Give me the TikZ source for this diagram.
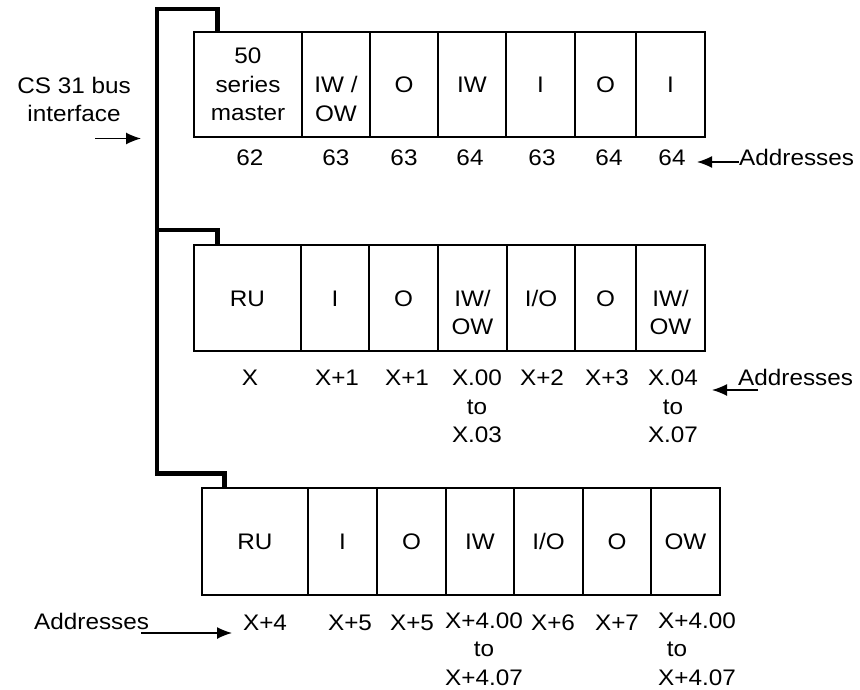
\documentclass[tikz,border=0pt]{standalone}
\usepackage{fontspec}
\setmainfont{Liberation Sans}[FakeStretch=1.08]
\usetikzlibrary{arrows.meta,fit}
\begin{document}
\begin{tikzpicture}[x=1pt,y=-1pt,
  box/.style={draw,line width=1.3pt,inner sep=0pt},
  lbl/.style={anchor=base,align=center,inner sep=0pt,font=\fontsize{22.5}{28.5}\selectfont},
  bus/.style={line width=4.5pt,line join=miter},
  arr/.style={line width=1.4pt,-{Latex[length=15pt,width=12pt]}}]
\useasboundingbox (0,0) rectangle (860,690);
% ---- boxes
\foreach \n/\l/\r in {1/194/302,2/302/370,3/370/438,4/438/506,5/506/575,6/575/636,7/636/705}
  \node[box,fit={(\l,32) (\r,137)}] (a\n) {};
\foreach \n/\l/\r in {1/194/301,2/301/369,3/369/438,4/438/507,5/507/575,6/575/636,7/636/705}
  \node[box,fit={(\l,245) (\r,351)}] (b\n) {};
\foreach \n/\l/\r in {1/202/308,2/308/377,3/377/446,4/446/514,5/514/583,6/583/651,7/651/720}
  \node[box,fit={(\l,488) (\r,595)}] (c\n) {};
% ---- box labels (base anchor = baseline of the last line)
\node[lbl] (ta1) at ([yshift=-36.2pt]a1.center) {50\\series\\master};
\node[lbl] (ta2) at ([yshift=-36.7pt]a2.center) {IW /\\OW};
\node[lbl] (ta3) at ([yshift=-8.2pt]a3.center) {O};
\node[lbl] (ta4) at ([yshift=-8.2pt]a4.center) {IW};
\node[lbl] (ta5) at ([yshift=-8.2pt]a5.center) {I};
\node[lbl] (ta6) at ([yshift=-8.2pt]a6.center) {O};
\node[lbl] (ta7) at ([yshift=-8.2pt]a7.center) {I};
\node[lbl] (tb1) at ([yshift=-8pt]b1.center) {RU};
\node[lbl] (tb2) at ([yshift=-8pt]b2.center) {I};
\node[lbl] (tb3) at ([yshift=-8pt]b3.center) {O};
\node[lbl] (tb4) at ([yshift=-36.5pt]b4.center) {IW/\\OW};
\node[lbl] (tb5) at ([yshift=-8pt]b5.center) {I/O};
\node[lbl] (tb6) at ([yshift=-8pt]b6.center) {O};
\node[lbl] (tb7) at ([yshift=-36.5pt]b7.center) {IW/\\OW};
\node[lbl] (tc1) at ([yshift=-8.2pt]c1.center) {RU};
\node[lbl] (tc2) at ([yshift=-8.2pt]c2.center) {I};
\node[lbl] (tc3) at ([yshift=-8.2pt]c3.center) {O};
\node[lbl] (tc4) at ([yshift=-8.2pt]c4.center) {IW};
\node[lbl] (tc5) at ([yshift=-8.2pt]c5.center) {I/O};
\node[lbl] (tc6) at ([yshift=-8.2pt]c6.center) {O};
\node[lbl] (tc7) at ([yshift=-8.2pt]c7.center) {OW};
% ---- addresses
\node[lbl] (pa1) at (250,165.5) {62};
\node[lbl] (pa2) at (336,165.5) {63};
\node[lbl] (pa3) at (404,165.5) {63};
\node[lbl] (pa4) at (470,165.5) {64};
\node[lbl] (pa5) at (542,165.5) {63};
\node[lbl] (pa6) at (609,165.5) {64};
\node[lbl] (pa7) at (672,165.5) {64};
\node[lbl] (pb1) at (250,385.5) {X};
\node[lbl] (pb2) at (337,385.5) {X+1};
\node[lbl] (pb3) at (407,385.5) {X+1};
\node[lbl] (pb4) at (477,442.5) {X.00\\to\\X.03};
\node[lbl] (pb5) at (542,385.5) {X+2};
\node[lbl] (pb6) at (607,385.5) {X+3};
\node[lbl] (pb7) at (673,442.5) {X.04\\to\\X.07};
\node[lbl] (pc1) at (265,630) {X+4};
\node[lbl] (pc2) at (350,630) {X+5};
\node[lbl] (pc3) at (412,630) {X+5};
\node[lbl] (pc4) at (484,685) {X+4.00\\to\\X+4.07};
\node[lbl] (pc5) at (553,630) {X+6};
\node[lbl] (pc6) at (617,630) {X+7};
\node[lbl] (pc7) at (697,685) {X+4.00\\\makebox[0pt][c]{to\hspace*{40pt}}\\X+4.07};
% ---- side labels
\node[lbl] (cs) at (74,122) {CS 31 bus\\interface};
\node[lbl,anchor=base west] (ad1) at (739,165.5) {Addresses};
\node[lbl,anchor=base west] (ad2) at (738,385.5) {Addresses};
\node[lbl,anchor=base west] (ad3) at (34,629.5) {Addresses};
% ---- arrows
\coordinate (cst) at (95,138.5);
\coordinate (csh) at (141,138.5);
\draw[arr] (cst) -- (csh);
\coordinate (h1) at (697,162);
\draw[arr] ([yshift=3.5pt]ad1.base west) -- (h1);
\coordinate (h2) at (712,390);
\draw[arr] ([xshift=20pt,yshift=-4.5pt]ad2.base west) -- (h2);
\coordinate (h3) at (232,633);
\draw[arr] ([xshift=-8pt,yshift=-3.5pt]ad3.base east) -- (h3);
% ---- bus
\coordinate (bt) at (157,9);
\coordinate (bm) at (157,230);
\coordinate (bb) at (157,473.5);
\draw[bus] ([xshift=24pt]a1.north west) |- (bt) -- (bb) -| ([xshift=23pt]c1.north west);
\draw[bus] (bm) -| ([xshift=24pt]b1.north west);
\end{tikzpicture}
\end{document}
